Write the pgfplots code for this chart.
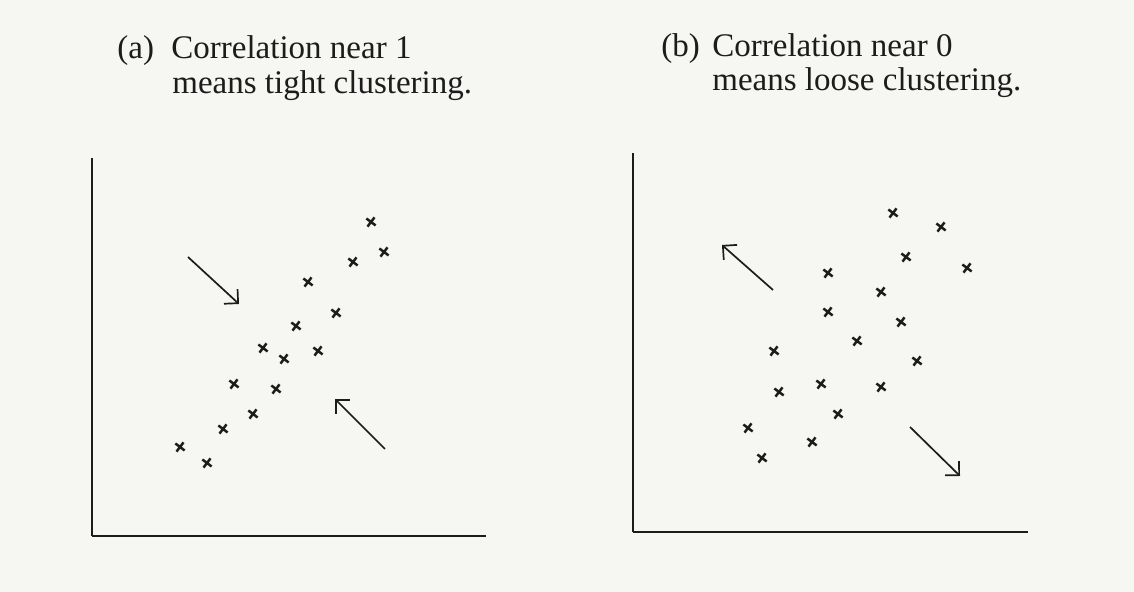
\documentclass[border=0pt]{standalone}
\usepackage{pgfplots}
\pgfplotsset{compat=1.18}
\usepackage{fontspec}
\setmainfont{Liberation Serif}
\usetikzlibrary{arrows.meta}

\definecolor{paper}{HTML}{F6F6F3}
\definecolor{ink}{HTML}{1C1C1C}

% Scatter data for panel (a): strong positive correlation
\pgfplotstableread{
x y
279 314
292 284
261 274
216 254
244 223
204 210
171 188
192 177
226 185
142 152
184 147
161 122
131 107
88 89
115 73
}\tighttable

% Scatter data for panel (b): weak correlation
\pgfplotstableread{
x y
260 319
308 305
273 275
334 264
195 259
248 240
195 220
268 210
224 191
141 181
284 171
188 148
248 145
146 140
205 118
115 104
179 90
129 74
}\loosetable

\pgfplotsset{
  panel/.style={
    scale only axis,
    axis x line=bottom,
    axis y line=left,
    axis line style={-, line width=1.4pt, ink},
    xtick=\empty, ytick=\empty,
    enlargelimits=false,
    clip=false,
    anchor=south west,
  },
  pts/.style={only marks, mark=x, mark size=2.9pt, ink,
    mark options={line width=1.25pt, rotate=8}},
  pointer/.style={no markers, ink, line width=0.85pt,
    -{Straight Barb[length=5pt, width=10pt, line width=0.85pt]}},
}

\begin{document}
\begin{tikzpicture}[x=1pt, y=1pt]
\fill[paper] (0,0) rectangle (567,296);

% Panel titles
\tikzset{ttl/.style={anchor=base west, inner sep=0, ink, font=\fontsize{16.5}{19}\selectfont}}
\node[ttl] at (58.5,266.5) {(a)};
\node[ttl] at (85.5,266.5) {Correlation near 1};
\node[ttl] at (86,249) {means tight clustering.};

\node[ttl] at (330.5,267.5) {(b)};
\node[ttl] at (356,267.5) {Correlation near 0};
\node[ttl] at (356,250.5) {means loose clustering.};

% Panel (a)
\begin{axis}[panel, at={(46pt,28pt)}, width=197pt, height=189pt,
  xmin=0, xmax=394, ymin=0, ymax=378]
  \addplot[pts] table[x=x, y=y] {\tighttable};
  \addplot[pointer] coordinates {(96,279) (147,232)};
  \addplot[pointer] coordinates {(293,87) (243,137)};
\end{axis}

% Panel (b)
\begin{axis}[panel, at={(316.5pt,30pt)}, width=197.5pt, height=189.5pt,
  xmin=0, xmax=395, ymin=0, ymax=379]
  \addplot[pts] table[x=x, y=y] {\loosetable};
  \addplot[pointer] coordinates {(140,242) (89,287)};
  \addplot[pointer] coordinates {(277,105) (327,56)};
\end{axis}
\end{tikzpicture}
\end{document}
